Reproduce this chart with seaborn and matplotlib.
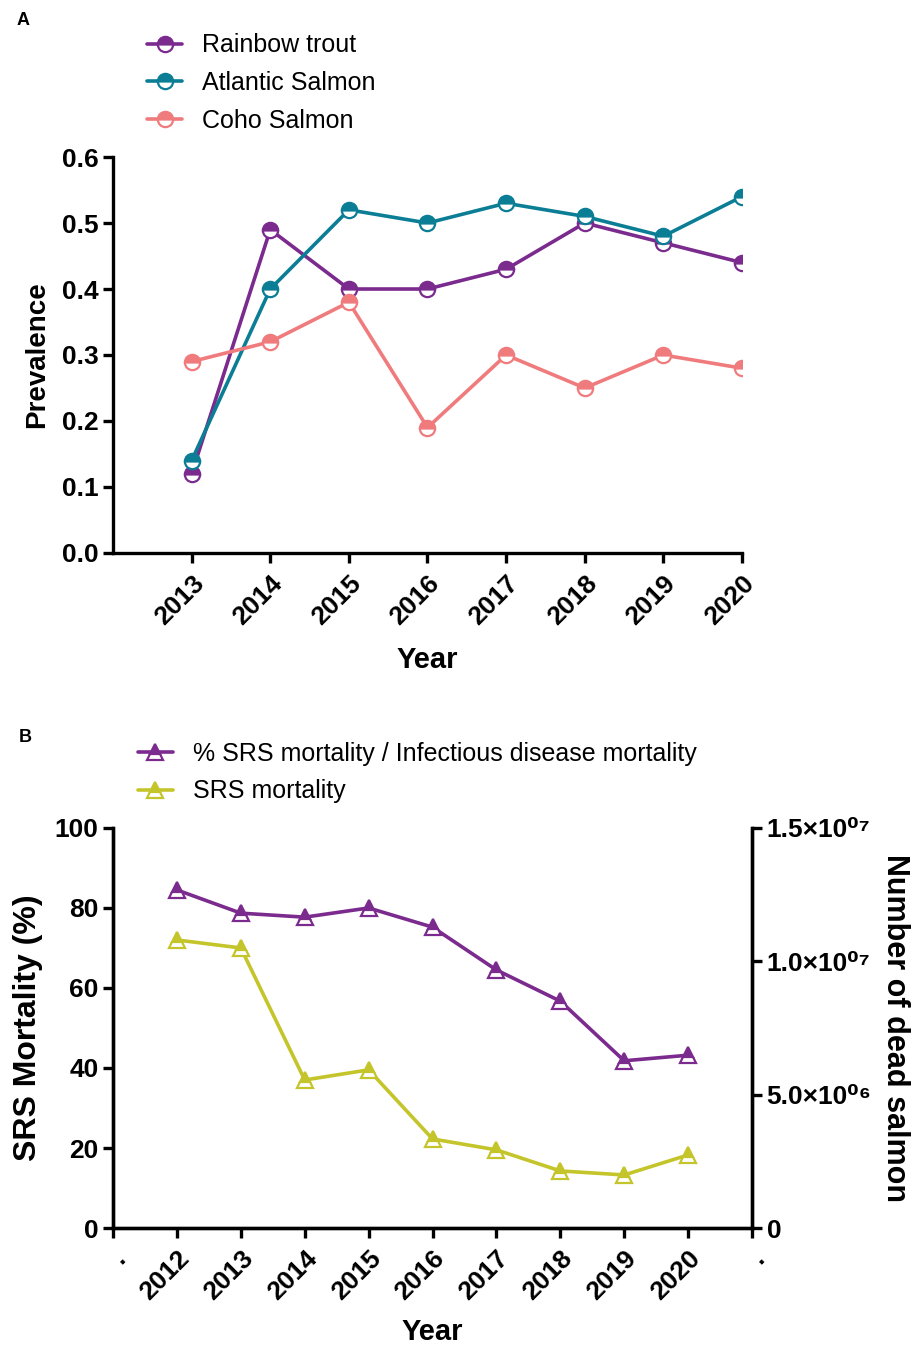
import numpy as np
import pandas as pd
import matplotlib
matplotlib.use('Agg')
import matplotlib.pyplot as plt
import seaborn as sns

sns.set_style('ticks')
plt.rcParams['font.family'] = ['Liberation Sans', 'DejaVu Sans']
plt.rcParams['font.weight'] = 'bold'
plt.rcParams['text.color'] = 'black'
plt.rcParams['axes.labelcolor'] = 'black'
plt.rcParams['xtick.color'] = 'black'
plt.rcParams['ytick.color'] = 'black'
plt.rcParams['axes.edgecolor'] = 'black'

# Panel A data
years_a = [2013, 2014, 2015, 2016, 2017, 2018, 2019, 2020]
rainbow_trout = [0.12, 0.49, 0.40, 0.40, 0.43, 0.50, 0.47, 0.44]
atlantic_salmon = [0.14, 0.40, 0.52, 0.50, 0.53, 0.51, 0.48, 0.54]
coho_salmon = [0.29, 0.32, 0.38, 0.19, 0.30, 0.25, 0.30, 0.28]

# Panel B data
years_b = [2012, 2013, 2014, 2015, 2016, 2017, 2018, 2019, 2020]
srs_pct = [84.5, 78.7, 77.7, 80.0, 75.2, 64.5, 56.7, 41.8, 43.2]
srs_dead = [1.08e7, 1.05e7, 5.55e6, 5.93e6, 3.34e6, 2.93e6, 2.14e6, 1.99e6, 2.74e6]
b_tick_labels = ['.', '2012', '2013', '2014', '2015', '2016', '2017', '2018', '2019', '2020', '.']
right_ticks = [0, 5.0e6, 1.0e7, 1.5e7]
right_labels = ['0', '5.0×10⁰⁶', '1.0×10⁰⁷', '1.5×10⁰⁷']

purple = '#7B2A8E'
teal = '#0B7E96'
coral = '#F07B7D'
olive = '#C4C52B'

fig = plt.figure(figsize=(9.16, 13.48), dpi=100)
ax1 = fig.add_axes([0.1234, 0.5898, 0.8100 - 0.1234, 0.8835 - 0.5898])
ax2 = fig.add_axes([0.1234, 0.0890, 0.8210 - 0.1234, 0.3858 - 0.0890])

lw = 2.6
tick_kw = dict(width=2.4, length=7, labelsize=19, direction='out')
leg_prop = {'family': ['Liberation Sans'], 'weight': 'normal', 'size': 18}

# ---- Panel A ----
series_a = [('Rainbow trout', rainbow_trout, purple),
            ('Atlantic Salmon', atlantic_salmon, teal),
            ('Coho Salmon', coho_salmon, coral)]
for name, vals, col in series_a:
    sns.lineplot(x=years_a, y=vals, ax=ax1, color=col, linewidth=lw, marker='o',
                 markersize=11, fillstyle='top', markerfacecoloralt='white',
                 markeredgecolor=col, markeredgewidth=1.6, label=name)
handles_a, labels_a = ax1.get_legend_handles_labels()
ax1.get_legend().remove()

ax1.set_xlim(2012, 2020)
ax1.set_ylim(0, 0.6)
ax1.set_xticks(years_a)
ax1.set_xticklabels([str(y) for y in years_a], rotation=45, ha='right',
                    rotation_mode='anchor')
ax1.set_yticks(np.arange(0, 0.61, 0.1))
ax1.set_yticklabels([f'{v:.1f}' for v in np.arange(0, 0.61, 0.1)])
ax1.tick_params(axis='both', **tick_kw)
ax1.tick_params(axis='x', pad=6)
ax1.set_xlabel('Year', fontsize=21, fontweight='bold', labelpad=12)
ax1.set_ylabel('Prevalence', fontsize=20, fontweight='bold', labelpad=8)
for s in ['left', 'bottom']:
    ax1.spines[s].set_linewidth(2.4)
sns.despine(ax=ax1)

fig.legend(handles_a, labels_a, loc='upper left', bbox_to_anchor=(0.136, 0.992),
           frameon=False, handlelength=1.4, handletextpad=0.8, labelspacing=0.55,
           prop=leg_prop)

# ---- Panel B ----
sns.lineplot(x=years_b, y=srs_pct, ax=ax2, color=purple, linewidth=lw, marker='^',
             markersize=11, fillstyle='top', markerfacecoloralt='white',
             markeredgecolor=purple, markeredgewidth=1.6,
             label='% SRS mortality / Infectious disease mortality')
ax2b = ax2.twinx()
sns.lineplot(x=years_b, y=srs_dead, ax=ax2b, color=olive, linewidth=lw, marker='^',
             markersize=11, fillstyle='top', markerfacecoloralt='white',
             markeredgecolor=olive, markeredgewidth=1.6, label='SRS mortality')
h1, l1 = ax2.get_legend_handles_labels()
h2, l2 = ax2b.get_legend_handles_labels()
ax2.get_legend().remove()
ax2b.get_legend().remove()

ax2.set_xlim(2011, 2021)
ax2.set_ylim(0, 100)
ax2.set_xticks(range(2011, 2022))
ax2.set_xticklabels(b_tick_labels, rotation=45, ha='right', rotation_mode='anchor')
ax2.set_yticks(range(0, 101, 20))
ax2.set_yticklabels([str(v) for v in range(0, 101, 20)])
ax2.tick_params(axis='both', **tick_kw)
ax2.tick_params(axis='x', pad=6)
ax2.set_xlabel('Year', fontsize=21, fontweight='bold', labelpad=10)
ax2.set_ylabel('SRS Mortality (%)', fontsize=23, fontweight='bold', labelpad=8)

ax2b.set_ylim(0, 1.5e7)
ax2b.set_yticks(right_ticks)
ax2b.set_yticklabels(right_labels)
ax2b.tick_params(axis='y', **tick_kw)
ax2b.set_ylabel('Number of dead salmon', fontsize=22, fontweight='bold',
                rotation=-90, labelpad=28)
for a in (ax2, ax2b):
    for s in ['left', 'bottom', 'right']:
        a.spines[s].set_linewidth(2.4)
    a.spines['top'].set_visible(False)

fig.legend(h1 + h2, l1 + l2, loc='upper left', bbox_to_anchor=(0.126, 0.4666),
           frameon=False, handlelength=1.4, handletextpad=0.8, labelspacing=0.55,
           prop=leg_prop)

fig.text(0.018, 0.985, 'A', fontsize=13, fontweight='bold', va='center')
fig.text(0.020, 0.453, 'B', fontsize=13, fontweight='bold', va='center')

fig.savefig('out.png', dpi=100)
